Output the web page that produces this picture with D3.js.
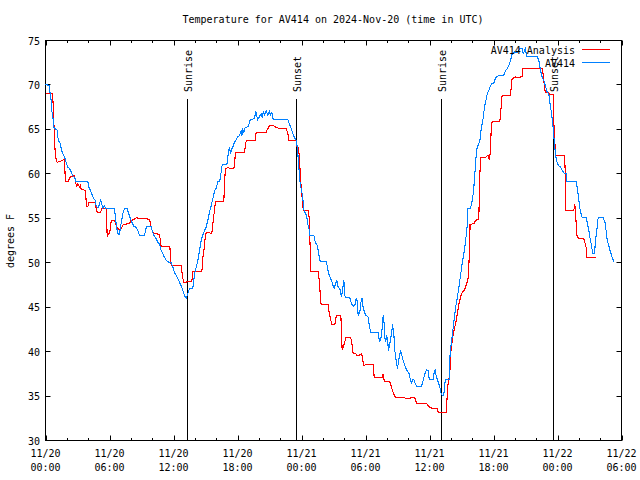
<!DOCTYPE html>
<html><head><meta charset="utf-8">
<script src="https://cdn.jsdelivr.net/npm/d3@7"></script>
<style>
html,body{margin:0;padding:0;background:#fff;}
text{font-family:"DejaVu Sans Mono",monospace;font-size:10px;fill:#000;}
</style></head>
<body>
<svg id="chart" width="640" height="480"></svg>
<script>
const titleText = "Temperature for AV414 on 2024-Nov-20 (time in UTC)";
const yLabelText = "degrees F";
const seriesNames = ["AV414 Analysis", "AV414"];
const seriesColors = ["#ff0000", "#0080ff"];
const yTicks = [30, 35, 40, 45, 50, 55, 60, 65, 70, 75];
const startTime = Date.UTC(2024, 10, 20, 0, 0);
const endHours = 54;
// sun events: hours since 11/20 00:00 UTC
const sunEventHours = [13.22, 23.53, 37.12, 47.56];
const sunEventNames = ["Sunrise", "Sunset", "Sunrise", "Sunset"];
// [hours since start, degF]
const analysisSeries = [[0,69],[0.66,69],[0.75,67.1],[0.84,63.75],[0.94,61.9],[1.09,61.3],[1.41,61.4],[1.72,61.6],[1.78,61.7],[1.84,59.8],[1.91,59.1],[2.16,59.1],[2.25,59.6],[2.72,59.8],[2.81,59.25],[2.91,58.5],[3.03,58.9],[3.19,58.5],[3.28,58.8],[3.34,58.3],[3.75,58.1],[3.84,56.4],[3.97,56.3],[4.06,56.8],[4.66,56.8],[4.75,56.1],[4.84,55.7],[5.16,55.7],[5.28,56.1],[5.72,56.1],[5.78,52.9],[5.91,53.25],[6.03,53.4],[6.16,54.75],[6.41,54.75],[6.5,54.6],[6.72,54.0],[6.84,53.8],[7.0,53.6],[7.16,54.0],[7.28,54.3],[7.88,54.4],[7.97,54.7],[8.34,54.9],[8.5,55.05],[9.75,54.9],[9.91,54.0],[10.06,53.4],[10.375,53.25],[10.69,53.2],[10.84,51.8],[11.66,51.8],[11.78,49.7],[12.72,49.7],[12.84,48.4],[12.97,47.8],[13.72,47.9],[13.81,49.0],[14.66,49.0],[14.75,50.6],[14.9,51.75],[15.0,53.3],[15.22,53.4],[15.59,53.3],[15.69,54.4],[15.84,55.9],[15.94,56.9],[16.72,56.9],[16.78,58.9],[16.87,60.6],[17.09,60.7],[17.31,60.6],[17.66,60.6],[17.72,61.1],[17.81,62.4],[18.66,62.4],[18.75,63.4],[18.84,63.75],[19.66,63.75],[19.75,64.7],[20.69,64.7],[20.78,64.95],[21.0,65.4],[21.4,65.4],[21.6,65.25],[21.94,65.1],[22.56,65.1],[22.72,64.6],[22.81,63.8],[23.44,63.8],[23.53,63.6],[23.59,63.0],[23.72,63.0],[23.81,61.7],[23.9,59.6],[24.03,57.6],[24.09,57.0],[24.16,55.9],[24.62,55.9],[24.72,55.1],[24.78,52.9],[24.84,50.6],[24.87,49.0],[25.56,49.0],[25.66,48.0],[25.78,46.1],[25.84,45.3],[26.5,45.3],[26.59,44.4],[26.72,43.7],[26.84,43.05],[27.12,43.05],[27.28,44.1],[27.69,44.1],[27.75,42.2],[27.81,40.2],[27.9,40.4],[28.06,41.1],[28.15,41.55],[28.62,41.55],[28.72,40.9],[28.84,39.75],[29.09,39.75],[29.15,39.6],[29.4,39.6],[29.53,39.7],[29.65,39.75],[29.78,38.8],[29.87,38.4],[30.03,38.6],[30.72,38.6],[30.78,37.9],[30.81,37.05],[31.59,37.05],[31.65,37.5],[31.75,36.75],[31.84,36.6],[32.28,36.6],[32.44,36.0],[32.59,35.4],[32.84,34.8],[33.69,34.8],[33.84,34.7],[34.31,34.8],[34.62,34.8],[34.78,34.2],[35.72,34.2],[35.87,33.9],[36.03,33.75],[36.28,33.6],[36.72,33.6],[36.81,33.2],[37.59,33.2],[37.69,36.0],[37.8,36.75],[37.9,37.5],[38.0,40.0],[38.2,41.8],[38.5,43.5],[38.75,45.3],[39.0,46.5],[39.3,47.0],[39.59,48.0],[39.66,48.75],[39.78,52.5],[39.8,54.3],[40.16,54.4],[40.25,54.6],[40.47,54.9],[40.62,54.9],[40.72,60.0],[40.81,61.8],[41.25,61.8],[41.34,61.95],[41.47,62.1],[41.56,61.8],[41.62,61.6],[41.72,62.6],[41.78,64.9],[41.87,65.9],[42.59,65.9],[42.66,66.6],[42.75,68.1],[42.81,68.8],[43.59,68.8],[43.66,69.75],[43.75,70.7],[44.06,70.9],[44.22,70.8],[44.69,70.95],[44.75,71.8],[44.84,71.9],[45.62,71.9],[45.78,71.8],[46.56,71.8],[46.65,71.25],[46.72,70.5],[46.78,69.75],[46.87,69.1],[47.19,69.1],[47.28,68.9],[47.59,68.9],[47.66,65.6],[47.72,64.5],[47.81,62.1],[48.66,62.1],[48.75,59.6],[48.78,55.9],[49.53,55.9],[49.62,56.55],[49.69,55.9],[49.75,54.4],[49.84,52.9],[50.09,52.7],[50.47,52.7],[50.56,52.3],[50.69,51.7],[50.72,50.6],[51.62,50.6]];
const observedSeries = [[0,70.1],[0.34,69.9],[0.44,69.0],[0.53,68.25],[0.59,67.1],[0.69,66.4],[0.78,65.25],[0.91,65.1],[1.09,64.9],[1.16,64.1],[1.28,63.6],[1.41,63.4],[1.47,62.8],[1.63,62.25],[1.78,61.9],[1.94,61.3],[2.09,60.75],[2.25,60.6],[2.41,60.2],[2.56,59.8],[2.72,59.6],[2.88,59.1],[3.97,59.1],[4.06,58.5],[4.22,58.1],[4.34,57.75],[4.53,57.2],[4.66,57.0],[4.75,56.4],[4.84,56.25],[4.97,56.25],[5.06,56.6],[5.16,57.1],[5.28,56.55],[5.375,56.1],[5.53,56.4],[5.625,56.1],[6.47,56.1],[6.56,55.1],[6.625,54.4],[6.72,53.6],[6.78,53.25],[6.94,53.2],[7.03,54.0],[7.16,54.9],[7.28,55.7],[7.41,56.1],[7.66,56.1],[7.78,55.6],[7.91,55.1],[8.03,54.75],[8.28,54.1],[8.47,54.0],[8.66,53.6],[8.81,53.1],[9.28,53.1],[9.375,53.6],[9.47,54.1],[9.91,54.1],[10.0,53.6],[10.16,53.1],[10.375,52.7],[10.53,52.3],[10.69,52.1],[10.84,51.4],[11.0,51.0],[11.16,50.6],[11.31,50.3],[11.47,50.1],[11.78,50.0],[11.94,49.5],[12.09,48.9],[12.25,48.6],[12.41,48.2],[12.56,47.8],[12.72,47.4],[12.875,46.9],[13.03,46.3],[13.19,46.05],[13.34,46.5],[13.5,47.1],[13.81,47.1],[13.9,48.0],[14.03,49.05],[14.22,49.9],[14.34,50.6],[14.44,51.4],[14.59,52.5],[14.75,53.1],[14.9,53.6],[15.06,54.0],[15.22,54.75],[15.37,55.7],[15.53,56.4],[15.69,57.2],[15.84,58.05],[16.0,58.4],[16.16,59.1],[16.34,59.2],[16.47,60.2],[16.56,61.0],[17.0,61.0],[17.09,61.9],[17.19,62.7],[17.25,63.0],[17.34,62.25],[17.47,62.8],[17.56,63.0],[17.72,63.6],[17.87,63.8],[18.03,64.2],[18.19,64.3],[18.34,64.8],[18.41,64.3],[18.5,64.95],[18.59,64.7],[18.72,65.2],[18.97,65.3],[19.12,65.7],[19.19,66.1],[19.59,66.2],[19.72,67.05],[19.78,66.6],[19.9,66.1],[20.06,66.45],[20.22,66.75],[20.31,66.4],[20.44,67.05],[20.53,66.6],[20.69,67.05],[20.84,66.6],[21.0,67.05],[21.09,66.6],[21.22,66.9],[21.31,66.2],[21.47,66.1],[22.72,66.1],[22.87,65.6],[23.03,65.1],[23.19,64.5],[23.34,64.1],[23.5,63.75],[23.56,63.4],[23.66,62.25],[23.75,60.75],[23.84,59.25],[23.97,58.3],[24.09,57.6],[24.16,56.8],[24.22,55.95],[24.31,55.7],[24.47,55.3],[24.56,54.6],[24.62,54.2],[24.72,53.7],[24.78,53.1],[25.16,53.1],[25.25,52.5],[25.41,52.05],[25.5,51.9],[25.56,51.4],[25.66,50.7],[25.72,50.25],[25.81,50.1],[26.34,50.1],[26.44,49.4],[26.56,48.75],[26.66,48.4],[26.81,48.0],[26.97,47.4],[27.06,47.1],[27.19,47.6],[27.31,48.0],[27.44,47.25],[27.59,47.1],[27.75,46.1],[27.84,46.9],[27.97,48.0],[28.06,46.3],[28.16,46.1],[28.53,46.05],[28.69,45.4],[28.84,45.1],[29.0,45.2],[29.09,45.75],[29.16,46.05],[29.25,45.4],[29.31,44.1],[29.47,44.4],[29.56,45.45],[29.66,46.05],[29.78,45.0],[29.87,44.55],[30.03,44.1],[30.25,43.9],[30.34,43.1],[30.41,42.6],[30.5,42.1],[31.19,42.1],[31.25,41.6],[31.34,41.1],[31.5,41.8],[31.59,43.1],[31.66,44.1],[31.75,43.1],[31.81,41.6],[31.9,41.1],[31.97,41.8],[32.06,41.4],[32.16,40.1],[32.28,40.9],[32.44,42.0],[32.53,43.05],[32.66,41.9],[32.75,40.1],[32.9,38.8],[33.0,38.1],[33.06,38.6],[33.16,39.4],[33.28,40.05],[33.37,39.75],[33.53,39.0],[33.69,38.4],[33.84,37.95],[34.06,37.6],[34.16,37.1],[34.31,36.4],[34.41,36.9],[34.53,36.9],[34.66,36.4],[34.78,36.1],[35.25,36.1],[35.41,36.75],[35.56,37.5],[35.72,37.95],[35.87,37.9],[35.97,36.9],[36.34,36.9],[36.44,37.7],[36.53,37.95],[36.59,37.5],[36.66,37.1],[36.81,36.6],[36.97,36.0],[37.06,35.4],[37.19,35.1],[37.34,35.1],[37.44,36.45],[37.53,36.9],[37.87,36.9],[37.9,39.2],[38.0,40.5],[38.15,42.0],[38.3,43.5],[38.45,45.0],[38.6,46.0],[38.75,47.2],[38.84,48.0],[38.97,49.1],[39.06,49.9],[39.22,51.0],[39.31,51.75],[39.375,52.5],[39.47,53.25],[39.53,54.2],[39.59,56.1],[39.84,56.1],[39.94,56.6],[40.06,57.4],[40.16,58.5],[40.22,59.6],[40.31,60.9],[40.375,62.1],[40.47,63.0],[40.62,63.4],[40.72,63.75],[40.78,64.3],[40.87,65.25],[41.0,66.0],[41.09,66.9],[41.19,67.7],[41.31,68.4],[41.41,69.0],[41.56,69.4],[41.72,69.9],[41.87,70.2],[42.03,70.2],[42.19,70.8],[42.5,71.1],[42.97,71.1],[43.12,71.6],[43.28,71.8],[43.44,72.2],[43.59,72.7],[43.69,73.2],[43.75,73.5],[43.84,73.6],[43.97,73.7],[44.06,73.6],[44.22,73.6],[44.47,74.1],[44.69,74.1],[44.78,73.5],[45.0,74.1],[45.09,73.2],[46.09,73.2],[46.25,72.75],[46.34,72.1],[46.41,71.6],[46.56,70.9],[46.72,70.5],[46.87,69.9],[47.03,69.2],[47.19,69.0],[47.28,68.1],[47.34,67.5],[47.44,66.9],[47.5,66.2],[47.56,65.6],[47.62,64.9],[47.72,63.2],[47.81,62.25],[47.9,61.5],[48.03,61.1],[48.12,60.9],[48.28,60.75],[48.44,60.4],[48.66,60.0],[48.81,60.0],[48.9,59.1],[49.78,59.1],[49.84,58.5],[49.94,57.6],[50.06,56.4],[50.16,55.7],[50.31,55.1],[50.69,55.1],[50.78,54.6],[50.94,53.6],[51.03,52.9],[51.16,52.1],[51.25,51.45],[51.31,51.0],[51.47,51.0],[51.56,52.5],[51.72,54.0],[51.81,55.05],[52.28,55.05],[52.44,54.6],[52.56,53.6],[52.66,52.5],[52.81,51.9],[52.97,51.2],[53.12,50.6],[53.28,50.1]];

const H = 3600 * 1000;
const toDate = h => new Date(startTime + h * H);

const svg = d3.select("#chart");
const L = 45.5, R = 621.5, T = 40.5, B = 440.5;
const x = d3.scaleUtc().domain([toDate(0), toDate(endHours)]).range([L, R]);
const y = d3.scaleLinear().domain([30, 75]).range([B, T]);

// title
svg.append("text").attr("x", 333).attr("y", 23).attr("text-anchor", "middle").text(titleText);
// y label
svg.append("text").attr("transform", "translate(14,241) rotate(-90)").attr("text-anchor", "middle").text(yLabelText);

// frame
svg.append("rect").attr("x", L).attr("y", T).attr("width", R - L).attr("height", B - T)
  .attr("fill", "none").attr("stroke", "#000").attr("stroke-width", 1);

// ticks
const majorTimes = d3.utcHour.every(6).range(toDate(0), toDate(endHours + 0.01));
const minorTimes = d3.utcHour.every(2).range(toDate(0), toDate(endHours + 0.01)).filter(d => d.getUTCHours() % 6 !== 0);
const tickG = svg.append("g").attr("stroke", "#000").attr("stroke-width", 1);
majorTimes.forEach(d => {
  const xx = Math.round(x(d)) + 0.5;
  tickG.append("line").attr("x1", xx).attr("x2", xx).attr("y1", B).attr("y2", B - 5);
  tickG.append("line").attr("x1", xx).attr("x2", xx).attr("y1", T).attr("y2", T + 5);
});
minorTimes.forEach(d => {
  const xx = Math.round(x(d)) + 0.5;
  tickG.append("line").attr("x1", xx).attr("x2", xx).attr("y1", B).attr("y2", B - 2.5);
  tickG.append("line").attr("x1", xx).attr("x2", xx).attr("y1", T).attr("y2", T + 2.5);
});
yTicks.forEach(v => {
  const yy = Math.round(y(v) - 0.5) + 0.5;
  tickG.append("line").attr("x1", L).attr("x2", L + 5).attr("y1", yy).attr("y2", yy);
  tickG.append("line").attr("x1", R).attr("x2", R - 5).attr("y1", yy).attr("y2", yy);
});

// x tick labels
const fmtDate = d3.utcFormat("%m/%d"), fmtTime = d3.utcFormat("%H:%M");
majorTimes.forEach(d => {
  const g = svg.append("text").attr("text-anchor", "middle").attr("x", x(d));
  g.append("tspan").attr("x", x(d)).attr("y", 457).text(fmtDate(d));
  g.append("tspan").attr("x", x(d)).attr("y", 471).text(fmtTime(d));
});
// y tick labels
yTicks.forEach(v => {
  svg.append("text").attr("x", 40).attr("y", y(v) + 4).attr("text-anchor", "end").text(v);
});

// sun events
sunEventHours.forEach((h, i) => {
  const xx = Math.round(x(toDate(h))) + 0.5;
  svg.append("line").attr("x1", xx).attr("x2", xx).attr("y1", 99).attr("y2", B)
    .attr("stroke", "#000").attr("stroke-width", 1);
  svg.append("text").attr("transform", `translate(${xx + 4.5},92) rotate(-90)`)
    .attr("text-anchor", "start").text(sunEventNames[i]);
});

// lines
const line = d3.line().x(d => x(toDate(d[0]))).y(d => y(d[1]));
[analysisSeries, observedSeries].forEach((s, i) => {
  svg.append("path").attr("d", line(s)).attr("fill", "none")
    .attr("stroke", seriesColors[i]).attr("stroke-width", 1.1)
    .attr("shape-rendering", "crispEdges");
});

// legend
seriesNames.forEach((n, i) => {
  const yy = 49.5 + i * 13;
  svg.append("text").attr("x", 575).attr("y", yy + 4).attr("text-anchor", "end").text(n);
  svg.append("line").attr("x1", 582).attr("x2", 610).attr("y1", yy).attr("y2", yy)
    .attr("stroke", seriesColors[i]).attr("stroke-width", 1.1)
    .attr("shape-rendering", "crispEdges");
});
</script>
</body></html>
